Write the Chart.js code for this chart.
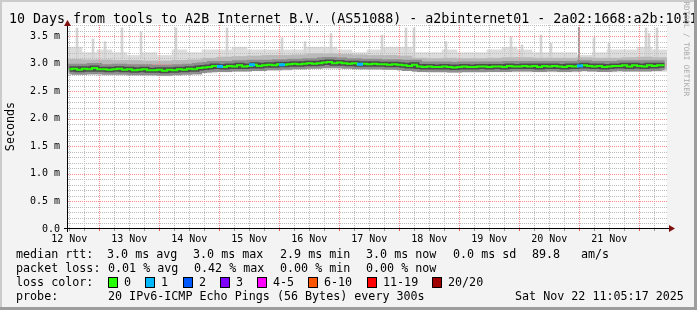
<!DOCTYPE html>
<html>
<head>
<meta charset="utf-8">
<script src="https://cdn.jsdelivr.net/npm/chart.js@4.4.1/dist/chart.umd.min.js"></script>
<style>
  html, body { margin: 0; padding: 0; }
  body { width: 697px; height: 310px; overflow: hidden; background: #f3f3f3; position: relative;
         font-family: "DejaVu Sans Mono", monospace; }
  #graph { position: absolute; left: 0; top: 0; }
  .frame { position: absolute; }
  .t { position: absolute; white-space: pre; font-size: 11.7px; line-height: 14px; color: #000; }
  #title { position: absolute; left: 9px; top: 11px; white-space: pre; font-size: 13.3px; line-height: 16px; color: #000; }
  #mark { position: absolute; left: 682px; top: -3px; white-space: pre; font-size: 7.5px; line-height: 9px;
          color: #aaaaaa; transform-origin: 0 0; transform: translate(9px, 0) rotate(90deg); }
  .box { position: absolute; width: 8px; height: 9px; border: 1px solid #000; top: 277px; }
</style>
</head>
<body>
<canvas id="graph" width="697" height="310"></canvas>
<div id="title">10 Days from tools to A2B Internet B.V. (AS51088) - a2binternet01 - 2a02:1668:a2b:1011</div>
<div id="mark">RRDTOOL / TOBI OETIKER</div>
<div id="legend"></div>
<div class="frame" style="left:0;top:0;width:697px;height:2px;background:#cbcbcb"></div>
<div class="frame" style="left:0;top:0;width:2px;height:310px;background:#cbcbcb"></div>
<div class="frame" style="left:694px;top:0;width:3px;height:310px;background:#9d9d9d"></div>
<div class="frame" style="left:0;top:307px;width:697px;height:3px;background:#9d9d9d"></div>
<script>
// time axis in hours since 12 Nov 00:00, graph covers 10 days ending 22 Nov 11:05
const startHour = 11.083;
const endHour = startHour + 240;
const dayLabels = ["12 Nov", "13 Nov", "14 Nov", "15 Nov", "16 Nov", "17 Nov", "18 Nov", "19 Nov", "20 Nov", "21 Nov"];

// median rtt (ms), one value per 2 hours
const medianRtt = [
    2.90, 2.91, 2.89, 2.91, 2.90, 2.92, 2.90,
    2.90, 2.89, 2.90, 2.91, 2.89, 2.90, 2.88, 2.89, 2.90, 2.88,
    2.88, 2.89, 2.87, 2.89, 2.88, 2.90, 2.89, 2.91, 2.90, 2.92,
    2.93, 2.94, 2.96,
    2.95, 2.94, 2.96, 2.95, 2.97, 2.95, 2.96, 2.98, 2.96, 2.97,
    2.98, 2.97, 2.99, 2.98, 2.99, 3.00, 2.99,
    3.00, 3.01, 3.00, 3.01, 3.02, 3.03,
    3.01, 3.02, 3.01, 3.00, 3.01, 2.99, 3.00,
    2.99, 3.00, 2.99, 2.99, 2.98, 2.99, 2.98,
    2.97, 2.96, 2.98, 2.95,
    2.94, 2.95, 2.94, 2.94, 2.95, 2.94, 2.93, 2.94, 2.95, 2.94, 2.94, 2.95,
    2.95, 2.94, 2.95, 2.95, 2.94, 2.96, 2.95, 2.95,
    2.96, 2.95, 2.96, 2.94, 2.96, 2.95, 2.96, 2.95, 2.94, 2.96, 2.95, 2.96,
    2.97, 2.96, 2.95, 2.96, 2.94, 2.95, 2.96,
    2.96, 2.97, 2.95, 2.97, 2.96, 2.95, 2.97, 2.96, 2.97, 2.97
];

// smoke (ms), one value per 6 hours: outer envelope and inner band
const smokeMin = [2.80, 2.80, 2.79, 2.79, 2.79, 2.78, 2.78, 2.79, 2.80, 2.83, 2.85, 2.86, 2.87, 2.88, 2.88, 2.90, 2.91, 2.92, 2.91, 2.90,
                  2.89, 2.89, 2.88, 2.85, 2.84, 2.84, 2.84, 2.84, 2.85, 2.85, 2.85, 2.85, 2.85, 2.85, 2.86, 2.86, 2.85, 2.86, 2.86, 2.86];
const smokeMax = [3.30, 3.20, 3.25, 3.20, 3.15, 3.20, 3.15, 3.25, 3.20, 3.25, 3.25, 3.30, 3.25, 3.25, 3.25, 3.25, 3.30, 3.30, 3.25, 3.20,
                  3.25, 3.30, 3.30, 3.20, 3.20, 3.25, 3.20, 3.20, 3.25, 3.30, 3.25, 3.20, 3.20, 3.20, 3.15, 3.20, 3.25, 3.25, 3.30, 3.25];
const smokeLow = [2.84, 2.84, 2.83, 2.83, 2.83, 2.82, 2.82, 2.83, 2.84, 2.87, 2.89, 2.90, 2.91, 2.92, 2.92, 2.94, 2.95, 2.96, 2.95, 2.94,
                  2.93, 2.93, 2.91, 2.88, 2.88, 2.88, 2.88, 2.88, 2.89, 2.89, 2.89, 2.89, 2.89, 2.89, 2.90, 2.90, 2.89, 2.90, 2.90, 2.90];
const smokeHigh = [3.08, 3.07, 3.07, 3.06, 3.06, 3.05, 3.05, 3.06, 3.07, 3.10, 3.12, 3.13, 3.14, 3.15, 3.15, 3.16, 3.18, 3.18, 3.17, 3.16,
                   3.15, 3.15, 3.14, 3.10, 3.09, 3.10, 3.09, 3.09, 3.10, 3.11, 3.11, 3.10, 3.10, 3.10, 3.11, 3.10, 3.10, 3.11, 3.12, 3.11];

// single slow pings sticking out of the smoke (hours after start, ms)
const spikeHours = [4, 10.4, 15.2, 22, 29.6, 43.6, 64, 86, 95.2, 105.6, 126, 135.6, 138.8, 151.6, 177.6, 182, 189.6, 193.6, 210.8, 216.8, 231.6, 232.8, 236];
const spikeTops = [3.65, 3.45, 3.40, 3.65, 3.58, 3.65, 3.65, 3.47, 3.40, 3.55, 3.52, 3.65, 3.65, 3.40, 3.49, 3.34, 3.52, 3.37, 3.47, 3.37, 3.65, 3.55, 3.65];
const darkSpikeHours = [204.8];
const darkSpikeTops = [3.66];

// samples with 1/20 loss
const lossHours = [61.2, 74, 86, 117.2, 205.2];
const lossRtt = [2.95, 2.98, 2.98, 2.99, 2.96];

const smokeStep = 6;
const medianStep = 2;
const mono = "DejaVu Sans Mono";
const gridGrey = "#bdbdbd";
const gridRed = "#ff8a8a";

function smokeBars(lo, hi) {
    return lo.map((v, i) => ({x: startHour + smokeStep * (i + 0.5), y: [v, hi[i]]}));
}
const medianData = medianRtt.map((v, i) => ({x: startHour + medianStep * (i + 0.5), y: v}));
const spikeData = spikeHours.map((h, i) => ({x: startHour + h, y: [3.1, spikeTops[i]]}));
const darkSpikeData = darkSpikeHours.map((h, i) => ({x: startHour + h, y: [2.85, darkSpikeTops[i]]}));
const lossData = lossHours.map((h, i) => ({x: startHour + h, y: lossRtt[i]}));

// rrdtool style dotted grid, drawn over the smoke but under the median
const rrdGrid = {
    id: "rrdGrid",
    beforeDraw(chart) {
        const {ctx, chartArea: a} = chart;
        ctx.save();
        ctx.fillStyle = "#ffffff";
        ctx.fillRect(a.left, a.top, a.right - a.left, a.bottom - a.top);
        ctx.restore();
    },
    afterDatasetDraw(chart, args) {
        if (args.index !== 3) return;
        const {ctx, chartArea: a, scales: {x, y}} = chart;
        const top = Math.round(a.top), bottom = Math.round(a.bottom);
        const left = Math.round(a.left), right = Math.round(a.right);
        const hLine = (v) => {
            const py = Math.round(y.getPixelForValue(v));
            for (let px = left + 1; px < right; px += 2) ctx.fillRect(px, py, 1, 1);
        };
        const vLine = (h) => {
            const px = Math.round(x.getPixelForValue(h));
            if (!isFinite(px)) throw new Error("x pixel not finite for hour " + h);
            for (let py = bottom - 2; py > top; py -= 2) ctx.fillRect(px, py, 1, 1);
        };
        ctx.save();
        ctx.fillStyle = gridGrey;
        for (let k = 1; k <= 37; k++) if (k % 5) hLine(k / 10);
        for (let h = 12; h < endHour; h += 6) if (h % 24) vLine(h);
        ctx.fillStyle = gridRed;
        for (let k = 5; k <= 35; k += 5) hLine(k / 10);
        for (let h = 24; h < endHour; h += 24) vLine(h);
        ctx.restore();
    },
    afterDraw(chart) {
        const {ctx, chartArea: a, scales: {x}} = chart;
        const y0 = a.bottom - 0.5, x0 = a.left + 0.5;
        ctx.save();
        for (let h = 12; h < endHour; h += 6) {
            const px = Math.round(x.getPixelForValue(h));
            ctx.fillStyle = h % 24 ? "#9a9a9a" : "#ff5050";
            ctx.fillRect(px, a.bottom, 1, 2);
        }
        ctx.lineWidth = 1;
        ctx.strokeStyle = "#000000";
        ctx.beginPath();
        ctx.moveTo(a.left - 3, y0);
        ctx.lineTo(a.right + 3, y0);
        ctx.moveTo(x0, a.bottom + 3);
        ctx.lineTo(x0, a.top - 1);
        ctx.stroke();
        ctx.fillStyle = "#7f1010";
        ctx.beginPath();
        ctx.moveTo(a.right + 8, y0);
        ctx.lineTo(a.right + 2, y0 - 3.5);
        ctx.lineTo(a.right + 2, y0 + 3.5);
        ctx.fill();
        ctx.beginPath();
        ctx.moveTo(x0, a.top - 4);
        ctx.lineTo(x0 - 3.5, a.top + 2);
        ctx.lineTo(x0 + 3.5, a.top + 2);
        ctx.fill();
        ctx.restore();
    }
};

new Chart(document.getElementById("graph").getContext("2d"), {
    type: "bar",
    data: {
        datasets: [
            {
                data: smokeBars(smokeMin, smokeMax),
                backgroundColor: "#dcdcdc",
                barThickness: 15,
                grouped: false,
                order: 10,
            },
            {
                data: spikeData,
                backgroundColor: "#d4d4d4",
                barThickness: 2,
                grouped: false,
                order: 9,
            },
            {
                data: smokeBars(smokeLow, smokeHigh),
                backgroundColor: "#b9b9b9",
                barThickness: 15,
                grouped: false,
                order: 8,
            },
            {
                data: darkSpikeData,
                backgroundColor: "#8a8a8a",
                barThickness: 1,
                grouped: false,
                order: 7,
            },
            {
                type: "line",
                data: medianData,
                borderColor: "#8e8e8e",
                borderWidth: 10,
                stepped: "middle",
                pointRadius: 0,
                order: 6,
            },
            {
                type: "line",
                data: medianData,
                borderColor: "#4c4c4c",
                borderWidth: 5,
                stepped: "middle",
                pointRadius: 0,
                order: 5,
            },
            {
                type: "line",
                data: medianData,
                borderColor: "#26ff00",
                borderWidth: 2,
                stepped: "middle",
                pointRadius: 0,
                order: 4,
            },
            {
                type: "line",
                data: lossData,
                showLine: false,
                pointStyle: "line",
                pointRadius: 3,
                borderWidth: 3,
                borderColor: "#00b8ff",
                order: 3,
            },
        ],
    },
    options: {
        responsive: false,
        animation: false,
        events: [],
        layout: {padding: {left: 0, right: 30, top: 24, bottom: 61}},
        plugins: {legend: {display: false}, tooltip: {enabled: false}, title: {display: false}},
        scales: {
            x: {
                type: "linear",
                min: startHour,
                max: endHour,
                offset: false,
                grid: {display: false, drawTicks: false},
                border: {display: false},
                afterBuildTicks: (s) => {
                    const t = [];
                    for (let h = 12; h < endHour; h += 24) t.push({value: h});
                    s.ticks = t;
                },
                ticks: {
                    autoSkip: false,
                    maxRotation: 0,
                    padding: 4,
                    color: "#000000",
                    font: {family: mono, size: 10},
                    callback: (v) => dayLabels[Math.round((v - 12) / 24)] || "",
                },
                afterFit: (s) => { s.height = 20; },
            },
            y: {
                min: 0,
                max: 3.72,
                grid: {display: false, drawTicks: false},
                border: {display: false},
                afterBuildTicks: (s) => {
                    const t = [];
                    for (let k = 0; k <= 7; k++) t.push({value: k / 2});
                    s.ticks = t;
                },
                ticks: {
                    autoSkip: false,
                    padding: 7,
                    color: "#000000",
                    font: {family: mono, size: 10},
                    callback: (v) => v === 0 ? "0.0" : v.toFixed(1) + " m",
                },
                title: {
                    display: true,
                    text: "Seconds",
                    color: "#000000",
                    font: {family: mono, size: 11.7},
                    padding: {top: 4, bottom: 0},
                },
                afterFit: (s) => { s.width = 67; },
            },
        },
    },
    plugins: [rrdGrid],
});

// legend block under the graph
const legendItems = [
    ["median rtt:", 16, 247], ["3.0 ms avg", 107, 247], ["3.0 ms max", 193, 247], ["2.9 ms min", 280, 247],
    ["3.0 ms now", 366, 247], ["0.0 ms sd", 453, 247], ["89.8", 532, 247], ["am/s", 581, 247],
    ["packet loss:", 16, 261], ["0.01 % avg", 108, 261], ["0.42 % max", 194, 261], ["0.00 % min", 280, 261], ["0.00 % now", 366, 261],
    ["loss color:", 16, 275],
    ["probe:", 16, 289], ["20 IPv6-ICMP Echo Pings (56 Bytes) every 300s", 108, 289], ["Sat Nov 22 11:05:17 2025", 515, 289],
];
const lossColors = ["#26ff00", "#00b8ff", "#0059ff", "#7e00ff", "#ff00ff", "#ff5500", "#ff0000", "#a10000"];
const lossNames = ["0", "1", "2", "3", "4-5", "6-10", "11-19", "20/20"];
const lossBoxX = [108, 145, 183, 220, 257, 308, 367, 432];

const legend = document.getElementById("legend");
legendItems.forEach(([text, x, y]) => {
    const d = document.createElement("div");
    d.className = "t";
    d.style.left = x + "px";
    d.style.top = y + "px";
    d.textContent = text;
    legend.appendChild(d);
});
lossNames.forEach((name, i) => {
    const b = document.createElement("div");
    b.className = "box";
    b.style.left = lossBoxX[i] + "px";
    b.style.background = lossColors[i];
    legend.appendChild(b);
    const d = document.createElement("div");
    d.className = "t";
    d.style.left = (lossBoxX[i] + 16) + "px";
    d.style.top = "275px";
    d.textContent = name;
    legend.appendChild(d);
});
</script>
</body>
</html>
